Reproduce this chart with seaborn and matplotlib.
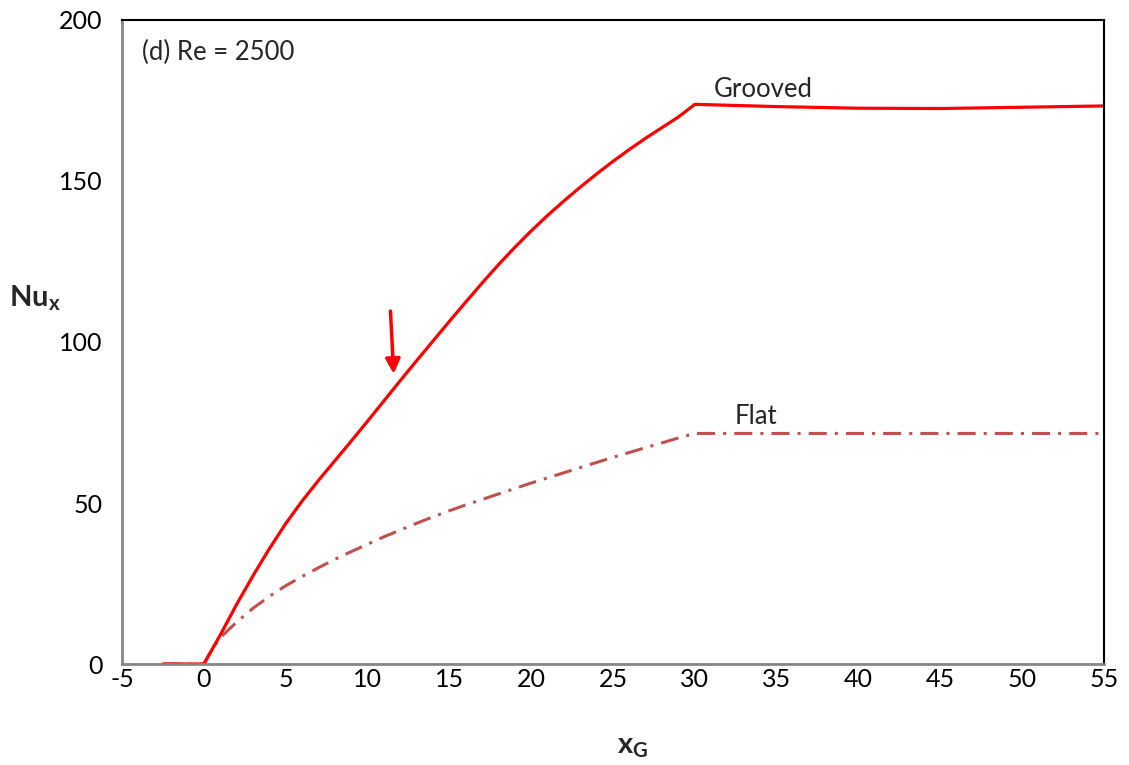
import matplotlib
matplotlib.use("Agg")
import matplotlib.pyplot as plt
import seaborn as sns
import pandas as pd

# Local Nusselt number along the channel, Re = 2500
x_grooved = [-2.5, 0, 0.5, 1, 2, 3, 4, 5, 6, 7, 8, 9, 10, 11, 12, 13, 14, 15,
             16, 17, 18, 19, 20, 21, 22, 23, 24, 25, 26, 27, 28, 29, 30,
             35, 40, 45, 50, 55]
nu_grooved = [0, 0, 4.5, 9.0, 18.5, 27.4, 35.8, 43.6, 50.6, 57.0, 63.1, 69.2,
              75.4, 81.7, 88.0, 94.2, 100.3, 106.4, 112.4, 118.3, 124.0, 129.4,
              134.5, 139.3, 143.8, 148.1, 152.2, 156.1, 159.8, 163.3, 166.6,
              169.9, 173.8, 173.1, 172.6, 172.5, 172.9, 173.3]

x_flat = [-2.5, 0, 0.25, 0.5, 1, 2, 3, 4, 5, 6, 7, 8, 9, 10, 11, 12, 13, 14, 15,
          16, 17, 18, 19, 20, 21, 22, 23, 24, 25, 26, 27, 28, 29, 30, 55]
nu_flat = [0, 0, 2.3, 4.5, 8.2, 13.0, 17.3, 21.0, 24.3, 27.2, 29.9, 32.5, 34.9,
           37.2, 39.5, 41.6, 43.7, 45.7, 47.6, 49.4, 51.1, 52.8, 54.5, 56.2,
           57.8, 59.4, 61.0, 62.6, 64.2, 65.7, 67.2, 68.7, 70.2, 71.6, 71.6]

x_ticks = list(range(-5, 56, 5))
y_ticks = list(range(0, 201, 50))

sns.set_theme(style="white")
plt.rcParams["font.family"] = ["Lato", "DejaVu Sans"]
plt.rcParams["mathtext.fontset"] = "custom"
plt.rcParams["mathtext.rm"] = "Lato"
plt.rcParams["mathtext.bf"] = "Lato:bold"
plt.rcParams["lines.scale_dashes"] = False
plt.rcParams["axes.unicode_minus"] = False

fig = plt.figure(figsize=(11.29, 7.65), dpi=100)
ax = fig.add_axes([0.1081, 0.132, 0.8698, 0.8419])

grooved = pd.DataFrame({"x": x_grooved, "nu": nu_grooved})
flat = pd.DataFrame({"x": x_flat, "nu": nu_flat})

sns.lineplot(data=flat, x="x", y="nu", ax=ax, color="#C0504D", lw=2.2,
             linestyle=(0, (13, 5.8, 2.2, 5.8)), sort=False, estimator=None)
sns.lineplot(data=grooved, x="x", y="nu", ax=ax, color="#FF0000", lw=2.3,
             sort=False, estimator=None)

ax.set_xlim(-5, 55)
ax.set_ylim(0, 200)
ax.set_xticks(x_ticks)
ax.set_yticks(y_ticks)
ax.tick_params(axis="both", length=0, labelsize=18, colors="black")
ax.tick_params(axis="y", pad=14)
ax.tick_params(axis="x", pad=3)

ax.set_xlabel("")
ax.set_ylabel("")
fig.text(0.031, 0.61, r"$\mathbf{Nu_x}$", fontsize=21, ha="center", va="center")
fig.text(0.560, 0.024, r"$\mathbf{x_G}$", fontsize=21, ha="center", va="center")

for side in ("left", "bottom"):
    ax.spines[side].set_color("#868686")
    ax.spines[side].set_linewidth(2)
for side in ("top", "right"):
    ax.spines[side].set_color("black")
    ax.spines[side].set_linewidth(1.5)

ax.text(-3.79, 189.8, "(d) Re = 2500", fontsize=18.5, ha="left", va="center")
ax.text(34.15, 178.3, "Grooved", fontsize=18.5, ha="center", va="center")
ax.text(33.7, 77.0, "Flat", fontsize=18.5, ha="center", va="center")

ax.annotate("", xy=(11.6, 90.1), xytext=(11.4, 109.6),
            arrowprops=dict(arrowstyle="-|>", color="#FF0000", lw=2.5,
                            mutation_scale=22, shrinkA=0, shrinkB=0))

fig.savefig("out.png", dpi=100)
